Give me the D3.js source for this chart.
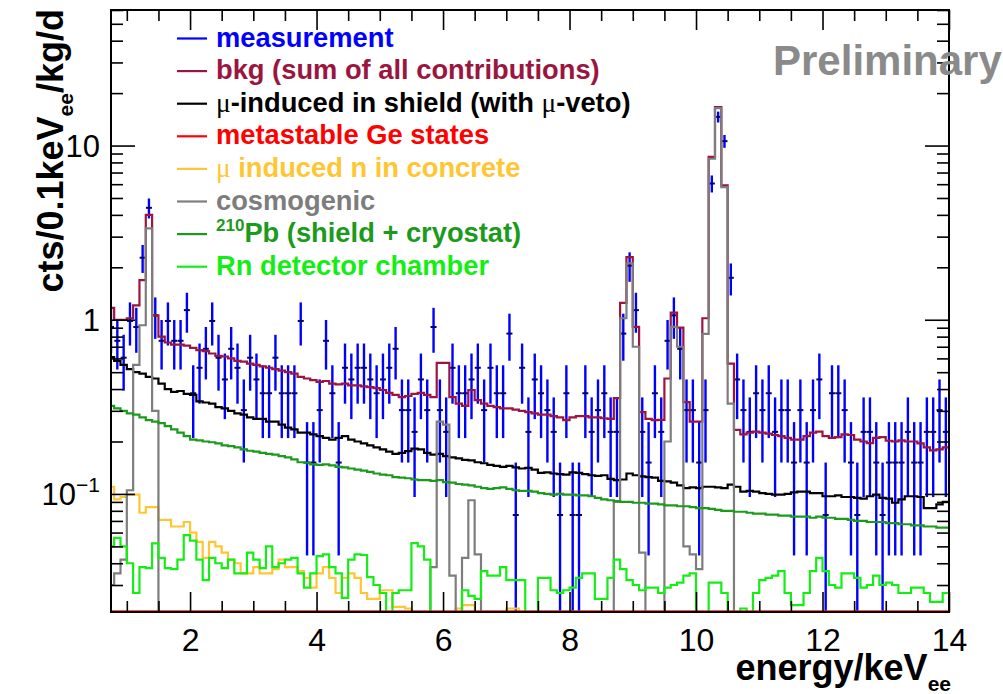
<!DOCTYPE html>
<html>
<head>
<meta charset="utf-8">
<script src="https://cdn.jsdelivr.net/npm/d3@7"></script>
<style>
body{margin:0;background:#fff;}
svg{display:block;font-family:"Liberation Sans",Arial,Helvetica,sans-serif;}
</style>
</head>
<body>
<svg id="chart" width="1003" height="694"></svg>
<script>
// histogram binning: 0.1 keV bins from 0.7 to 14.0 keV
var binLo = 0.7, binW = 0.1;
var countScale = 0.0757; // cts/0.1keV/kg/d for one count

var measCounts = [12,10,8,13,12,30,58,14,10,13,
  10,10,15,5,7,9,13,8,6,9,
  7,4,8,6,5,5,8,5,5,5,
  13,2,2,4,10,5,2,7,6,7,
  7,6,5,6,7,9,4,4,3,6,
  4,12,4,3,7,5,5,6,7,4,
  7,5,5,11,1,7,3,6,5,4,
  3,1,5,1,1,5,3,4,5,3,
  3,11,27,15,3,2,5,3,10,14,
  9,4,4,2,4,80,193,140,23,6,
  4,3,5,4,5,3,4,4,2,4,
  2,4,6,1,5,5,4,2,1,3,
  3,2,1,2,2,2,3,2,2,3,
  3,4,3];

var bkg = [1.17,1.0,1.0,1.02,1.21,1.69,4.0,1.06,0.80,0.74,
  0.72,0.72,0.71,0.69,0.67,0.66,0.64,0.62,0.615,0.6,
  0.58,0.575,0.56,0.55,0.54,0.53,0.52,0.51,0.5,0.49,
  0.47,0.46,0.45,0.44,0.445,0.43,0.425,0.43,0.42,0.42,
  0.415,0.41,0.405,0.395,0.38,0.37,0.36,0.365,0.375,0.38,
  0.37,0.36,0.565,0.565,0.36,0.33,0.32,0.395,0.346,0.33,
  0.32,0.315,0.31,0.31,0.305,0.30,0.295,0.29,0.285,0.285,
  0.28,0.275,0.265,0.275,0.28,0.28,0.275,0.275,0.272,0.27,
  0.355,1.25,2.29,0.91,0.295,0.27,0.265,0.266,0.46,1.10,
  0.90,0.337,0.26,0.26,1.02,8.6,16.6,5.9,0.56,0.233,
  0.22,0.225,0.228,0.225,0.222,0.218,0.215,0.21,0.205,0.205,
  0.215,0.225,0.228,0.215,0.21,0.212,0.22,0.218,0.205,0.2,
  0.196,0.21,0.212,0.202,0.2,0.203,0.2,0.2,0.195,0.185,
  0.178,0.18,0.185];

var muShield = [0.61,0.58,0.55,0.52,0.50,0.49,0.47,0.46,0.43,0.40,
  0.385,0.39,0.375,0.37,0.34,0.335,0.33,0.315,0.31,0.30,
  0.29,0.285,0.275,0.27,0.27,0.26,0.26,0.25,0.24,0.235,
  0.225,0.225,0.22,0.215,0.21,0.205,0.21,0.215,0.205,0.2,
  0.195,0.19,0.185,0.18,0.175,0.17,0.172,0.176,0.182,0.18,
  0.172,0.168,0.17,0.165,0.162,0.16,0.157,0.156,0.152,0.15,
  0.147,0.145,0.143,0.145,0.142,0.14,0.141,0.138,0.132,0.133,
  0.131,0.13,0.129,0.133,0.132,0.13,0.128,0.127,0.128,0.122,
  0.12,0.121,0.131,0.128,0.126,0.125,0.124,0.119,0.118,0.116,
  0.112,0.108,0.109,0.108,0.11,0.11,0.109,0.108,0.113,0.11,
  0.103,0.104,0.103,0.101,0.1,0.099,0.099,0.1,0.102,0.103,
  0.103,0.101,0.101,0.097,0.097,0.098,0.096,0.096,0.095,0.094,
  0.097,0.099,0.095,0.094,0.089,0.093,0.097,0.097,0.096,0.083,
  0.083,0.087,0.09];

var metastable = [0.012,0.012,0.012,0.012,0.012,0.012,0.012,0.012,0.012,0.012,
  0.012,0.012,0.012,0.012,0.012,0.012,0.012,0.012,0.012,0.012,
  0.012,0.012,0.012,0.012,0.012,0.012,0.012,0.012,0.012,0.012,
  0.012,0.012,0.012,0.012,0.012,0.012,0.012,0.012,0.012,0.012,
  0.012,0.012,0.012,0.012,0.012,0.012,0.012,0.012,0.012,0.012,
  0.012,0.012,0.012,0.012,0.012,0.012,0.012,0.012,0.012,0.012,
  0.012,0.012,0.012,0.012,0.012,0.012,0.012,0.012,0.012,0.012,
  0.012,0.012,0.012,0.012,0.012,0.012,0.012,0.012,0.012,0.012,
  0.012,0.012,0.012,0.012,0.012,0.012,0.012,0.012,0.012,0.012,
  0.012,0.012,0.012,0.012,0.012,0.012,0.012,0.012,0.012,0.012,
  0.012,0.012,0.012,0.012,0.012,0.012,0.012,0.012,0.012,0.012,
  0.012,0.012,0.012,0.012,0.012,0.012,0.012,0.012,0.012,0.012,
  0.012,0.012,0.012,0.012,0.012,0.012,0.012,0.012,0.012,0.012,
  0.012,0.012,0.012];

var muConcrete = [0.11,0.093,0.096,0.099,0.099,0.078,0.084,0.084,0.071,0.071,
  0.065,0.065,0.069,0.06,0.053,0.043,0.053,0.05,0.046,0.042,
  0.04,0.035,0.035,0.038,0.035,0.035,0.037,0.042,0.038,0.038,
  0.036,0.033,0.029,0.035,0.038,0.033,0.027,0.033,0.035,0.033,
  0.027,0.025,0.025,0.028,0.028,0.0225,0.0225,0.022,0.021,0.02,
  0.019,0.02,0.021,0.019,0.018,0.022,0.023,0.023,0.02,0.018,
  0.017,0.018,0.021,0.022,0.022,0.019,0.015,0.015,0.015,0.015,
  0.015,0.015,0.015,0.015,0.015,0.015,0.015,0.015,0.015,0.015,
  0.015,0.015,0.015,0.015,0.015,0.015,0.015,0.015,0.015,0.015,
  0.015,0.015,0.015,0.015,0.015,0.015,0.015,0.015,0.015,0.015,
  0.015,0.015,0.015,0.015,0.015,0.015,0.015,0.015,0.015,0.015,
  0.015,0.015,0.015,0.015,0.015,0.015,0.015,0.015,0.015,0.015,
  0.015,0.015,0.015,0.015,0.015,0.015,0.015,0.015,0.015,0.015,
  0.015,0.015,0.015];

var cosmogenic = [0.03,0.035,0.042,0.105,0.55,0.93,3.35,0.3,0,0,
  0,0,0,0,0,0,0,0,0,0,
  0,0,0,0,0,0,0,0,0,0,
  0,0,0,0,0,0,0,0,0,0,
  0,0,0,0,0,0,0,0,0,0,
  0,0.038,0.26,0.25,0.034,0,0.043,0.092,0.045,0,
  0,0,0,0,0,0,0,0,0,0,
  0,0,0,0,0,0,0,0,0,0,
  0.09,1.02,2.11,0.70,0.046,0,0,0,0.2,0.91,
  0.70,0.05,0.045,0.037,0.83,8.4,16.4,5.77,0.33,0,
  0,0,0,0,0,0,0,0,0,0,
  0,0,0,0,0,0,0,0,0,0,
  0,0,0,0,0,0,0,0,0,0,
  0,0,0];

var pb210 = [0.32,0.31,0.30,0.29,0.285,0.275,0.265,0.26,0.255,0.245,
  0.235,0.225,0.215,0.205,0.203,0.2,0.198,0.195,0.19,0.188,
  0.185,0.18,0.177,0.175,0.172,0.17,0.168,0.165,0.162,0.158,
  0.152,0.151,0.148,0.147,0.148,0.146,0.143,0.142,0.14,0.138,
  0.136,0.134,0.131,0.129,0.128,0.125,0.124,0.123,0.121,0.12,
  0.12,0.119,0.12,0.117,0.116,0.114,0.113,0.112,0.11,0.108,
  0.107,0.108,0.109,0.107,0.105,0.104,0.104,0.103,0.101,0.1,
  0.099,0.1,0.099,0.099,0.098,0.098,0.097,0.095,0.093,0.092,
  0.091,0.09,0.09,0.089,0.089,0.088,0.088,0.087,0.086,0.086,
  0.085,0.085,0.084,0.083,0.083,0.082,0.081,0.08,0.08,0.079,
  0.079,0.078,0.077,0.077,0.076,0.076,0.075,0.075,0.074,0.074,
  0.074,0.073,0.074,0.073,0.073,0.072,0.072,0.071,0.07,0.07,
  0.069,0.069,0.069,0.068,0.068,0.067,0.067,0.066,0.066,0.065,
  0.065,0.064,0.064];

var rnChamber = [0.05,0.056,0.05,0.04,0.027,0.038,0.0375,0.052,0.043,0.0375,
  0.037,0.042,0.058,0.054,0.042,0.032,0.043,0.04,0.0375,0.042,
  0.035,0.035,0.046,0.042,0.0375,0.05,0.038,0.04,0.042,0.043,
  0.035,0.029,0.035,0.044,0.045,0.038,0.035,0.0253,0.042,0.045,
  0.0446,0.0333,0.03,0.027,0.02,0.027,0.028,0.028,0.0522,0.05,
  0.042,0.02,0.018,0.018,0.018,0.018,0.028,0.026,0.025,0.036,
  0.034,0.034,0.038,0.032,0.032,0.032,0.02,0.02,0.033,0.033,
  0.028,0.027,0.028,0.029,0.033,0.035,0.035,0.025,0.025,0.033,
  0.042,0.037,0.032,0.03,0.028,0.029,0.029,0.027,0.029,0.03,
  0.031,0.034,0.035,0.019,0.019,0.031,0.031,0.027,0.019,0.019,
  0.022,0.019,0.027,0.032,0.033,0.034,0.036,0.027,0.023,0.023,
  0.027,0.036,0.043,0.036,0.03,0.029,0.035,0.035,0.033,0.029,
  0.03,0.034,0.03,0.031,0.03,0.027,0.027,0.029,0.029,0.027,
  0.024,0.024,0.027];

var xMajorTicks = [2, 4, 6, 8, 10, 12, 14];
var xTickLabels = ["2", "4", "6", "8", "10", "12", "14"];
var yMajorTicks = [0.1, 1, 10];
var yMinorTicks = [0.03,0.04,0.05,0.06,0.07,0.08,0.09,0.2,0.3,0.4,0.5,0.6,0.7,0.8,0.9,2,3,4,5,6,7,8,9,20,30,40,50,60];

var legendItems = [
  {parts: [["measurement"]], color: "#0000ff"},
  {parts: [["bkg (sum of all contributions)"]], color: "#9b163f"},
  {parts: [["\u03bc", "mu"], ["-induced in shield (with "], ["\u03bc", "mu"], ["-veto)"]], color: "#000000"},
  {parts: [["metastable Ge states"]], color: "#ff0000"},
  {parts: [["\u03bc", "mu"], [" induced n in concrete"]], color: "#ffc633"},
  {parts: [["cosmogenic"]], color: "#7d7d7d"},
  {parts: [["210", "sup"], ["Pb (shield + cryostat)"]], color: "#1c9a1c"},
  {parts: [["Rn detector chamber"]], color: "#14ee14"}
];

try {
  var svg = d3.select("#chart");
  var X0 = 111, X1 = 949, Y0 = 10, Y1 = 612;
  var yMin = 0.021, yMax = 60;

  var x = d3.scaleLinear().domain([0.75, 14]).range([X0, X1]);
  var y = d3.scaleLog().domain([yMin, yMax]).range([Y1, Y0]);
  var yc = function(v){ return y(Math.max(v, yMin)); };

  svg.append("clipPath").attr("id", "frameClip")
    .append("rect").attr("x", X0).attr("y", Y0).attr("width", X1 - X0).attr("height", Y1 - Y0);

  var plot = svg.append("g").attr("clip-path", "url(#frameClip)");

  // measurement with poisson errors
  var meas = measCounts.map(function(n, i){
    return {e: binLo + binW * (i + 0.5), v: n * countScale, err: Math.sqrt(n) * countScale, n: n};
  }).filter(function(d){ return d.n > 0; });

  plot.selectAll("line.ebar").data(meas).enter().append("line")
    .attr("class", "ebar")
    .attr("x1", function(d){ return x(d.e); })
    .attr("x2", function(d){ return x(d.e); })
    .attr("y1", function(d){ return yc(d.v + d.err); })
    .attr("y2", function(d){ return d.v - d.err > yMin ? yc(d.v - d.err) : Y1 + 2; })
    .attr("stroke", "#0000ff").attr("stroke-width", 2.4);

  plot.selectAll("line.mark").data(meas).enter().append("line")
    .attr("class", "mark")
    .attr("x1", function(d){ return x(d.e) - 3; })
    .attr("x2", function(d){ return x(d.e) + 3; })
    .attr("y1", function(d){ return yc(d.v); })
    .attr("y2", function(d){ return yc(d.v); })
    .attr("stroke", "#00006e").attr("stroke-width", 2);

  var step = d3.line()
    .x(function(d){ return x(d[0]); })
    .y(function(d){ return yc(d[1]); })
    .curve(d3.curveStepAfter);

  function histPoints(vals){
    var p = vals.map(function(v, i){ return [binLo + binW * i, v]; });
    p.push([binLo + binW * vals.length, vals[vals.length - 1]]);
    return p;
  }

  var hists = [
    [bkg, "#9b163f"],
    [muShield, "#000000"],
    [muConcrete, "#ffc633"],
    [cosmogenic, "#7d7d7d"],
    [pb210, "#1c9a1c"],
    [rnChamber, "#14ee14"],
    [metastable, "#ff1a1a"]
  ];
  hists.forEach(function(h){
    plot.append("path")
      .attr("d", step(histPoints(h[0])))
      .attr("fill", "none")
      .attr("stroke", h[1])
      .attr("stroke-width", h[0] === metastable ? 3.5 : 2.2);
  });

  // axes, ticks inside the frame like ROOT
  var xMinorTicks = d3.range(1, 14.01, 0.5).filter(function(t){ return xMajorTicks.indexOf(t) < 0; });

  function styleAxis(g){
    g.select(".domain").remove();
    g.selectAll("line").attr("stroke", "#000").attr("stroke-width", 1.6);
  }

  svg.append("g").attr("transform", "translate(0," + Y1 + ")")
    .call(d3.axisBottom(x).tickValues(xMinorTicks).tickSize(-11).tickFormat(""))
    .call(styleAxis);
  svg.append("g").attr("transform", "translate(0," + Y1 + ")")
    .call(d3.axisBottom(x).tickValues(xMajorTicks).tickSize(-20).tickPadding(16)
      .tickFormat(function(d, i){ return xTickLabels[i]; }))
    .call(styleAxis)
    .call(function(g){
      g.selectAll("text").attr("font-size", 32).attr("font-family", "Liberation Sans, Arial, sans-serif").attr("fill", "#000");
    });
  svg.append("g").attr("transform", "translate(0," + Y0 + ")")
    .call(d3.axisTop(x).tickValues(xMinorTicks).tickSize(-11).tickFormat(""))
    .call(styleAxis);
  svg.append("g").attr("transform", "translate(0," + Y0 + ")")
    .call(d3.axisTop(x).tickValues(xMajorTicks).tickSize(-20).tickFormat(""))
    .call(styleAxis);

  svg.append("g").attr("transform", "translate(" + X0 + ",0)")
    .call(d3.axisLeft(y).tickValues(yMinorTicks).tickSize(-12).tickFormat(""))
    .call(styleAxis);
  svg.append("g").attr("transform", "translate(" + X0 + ",0)")
    .call(d3.axisLeft(y).tickValues(yMajorTicks).tickSize(-24).tickFormat(""))
    .call(styleAxis);
  svg.append("g").attr("transform", "translate(" + X1 + ",0)")
    .call(d3.axisRight(y).tickValues(yMinorTicks).tickSize(-12).tickFormat(""))
    .call(styleAxis);
  svg.append("g").attr("transform", "translate(" + X1 + ",0)")
    .call(d3.axisRight(y).tickValues(yMajorTicks).tickSize(-24).tickFormat(""))
    .call(styleAxis);

  // y tick labels (10^-1 with superscript)
  yMajorTicks.forEach(function(v){
    var t = svg.append("text")
      .attr("x", 100).attr("y", y(v) + 11)
      .attr("text-anchor", "end")
      .attr("font-size", 31).attr("fill", "#000");
    if (v < 1) {
      t.append("tspan").text("10");
      t.append("tspan").attr("font-size", 21).attr("dy", -13).text("\u22121");
    } else {
      t.text(String(v));
    }
  });

  // frame
  svg.append("rect")
    .attr("x", X0).attr("y", Y0).attr("width", X1 - X0).attr("height", Y1 - Y0)
    .attr("fill", "none").attr("stroke", "#000").attr("stroke-width", 2);

  // axis titles
  var xt = svg.append("text")
    .attr("x", 951).attr("y", 680)
    .attr("text-anchor", "end")
    .attr("font-size", 36).attr("font-weight", "bold").attr("fill", "#000");
  xt.append("tspan").text("energy/keV");
  xt.append("tspan").attr("font-size", 21).attr("dy", 11).text("ee");

  var yt = svg.append("text")
    .attr("transform", "translate(63,9) rotate(-90)")
    .attr("text-anchor", "end")
    .attr("font-size", 36).attr("font-weight", "bold").attr("fill", "#000");
  yt.append("tspan").text("cts/0.1keV");
  yt.append("tspan").attr("font-size", 21).attr("dy", 10).text("ee");
  yt.append("tspan").attr("dy", -10).text("/kg/d");

  // legend
  var leg = svg.append("g");
  legendItems.forEach(function(item, i){
    var base = 46.5 + i * 32.6;
    leg.append("line")
      .attr("x1", 177).attr("x2", 207).attr("y1", base - 8).attr("y2", base - 8)
      .attr("stroke", item.color).attr("stroke-width", 2.2);
    var t = leg.append("text")
      .attr("x", 216).attr("y", base)
      .attr("font-size", 27.3).attr("font-weight", "bold").attr("fill", item.color);
    var raised = false;
    item.parts.forEach(function(p){
      var s = t.append("tspan").text(p[0]);
      if (p[1] === "mu") s.attr("font-weight", "normal").attr("font-family", "Liberation Serif, serif");
      if (p[1] === "sup") { s.attr("font-size", 17).attr("dy", -11); raised = true; }
      else if (raised) { s.attr("dy", 11); raised = false; }
    });
  });

  svg.append("text")
    .attr("x", 773).attr("y", 75)
    .attr("font-size", 42).attr("font-weight", "bold").attr("fill", "#8a8a8a")
    .text("Preliminary");
}
catch(e)
{
  console.log(e);
}
</script>
</body>
</html>
